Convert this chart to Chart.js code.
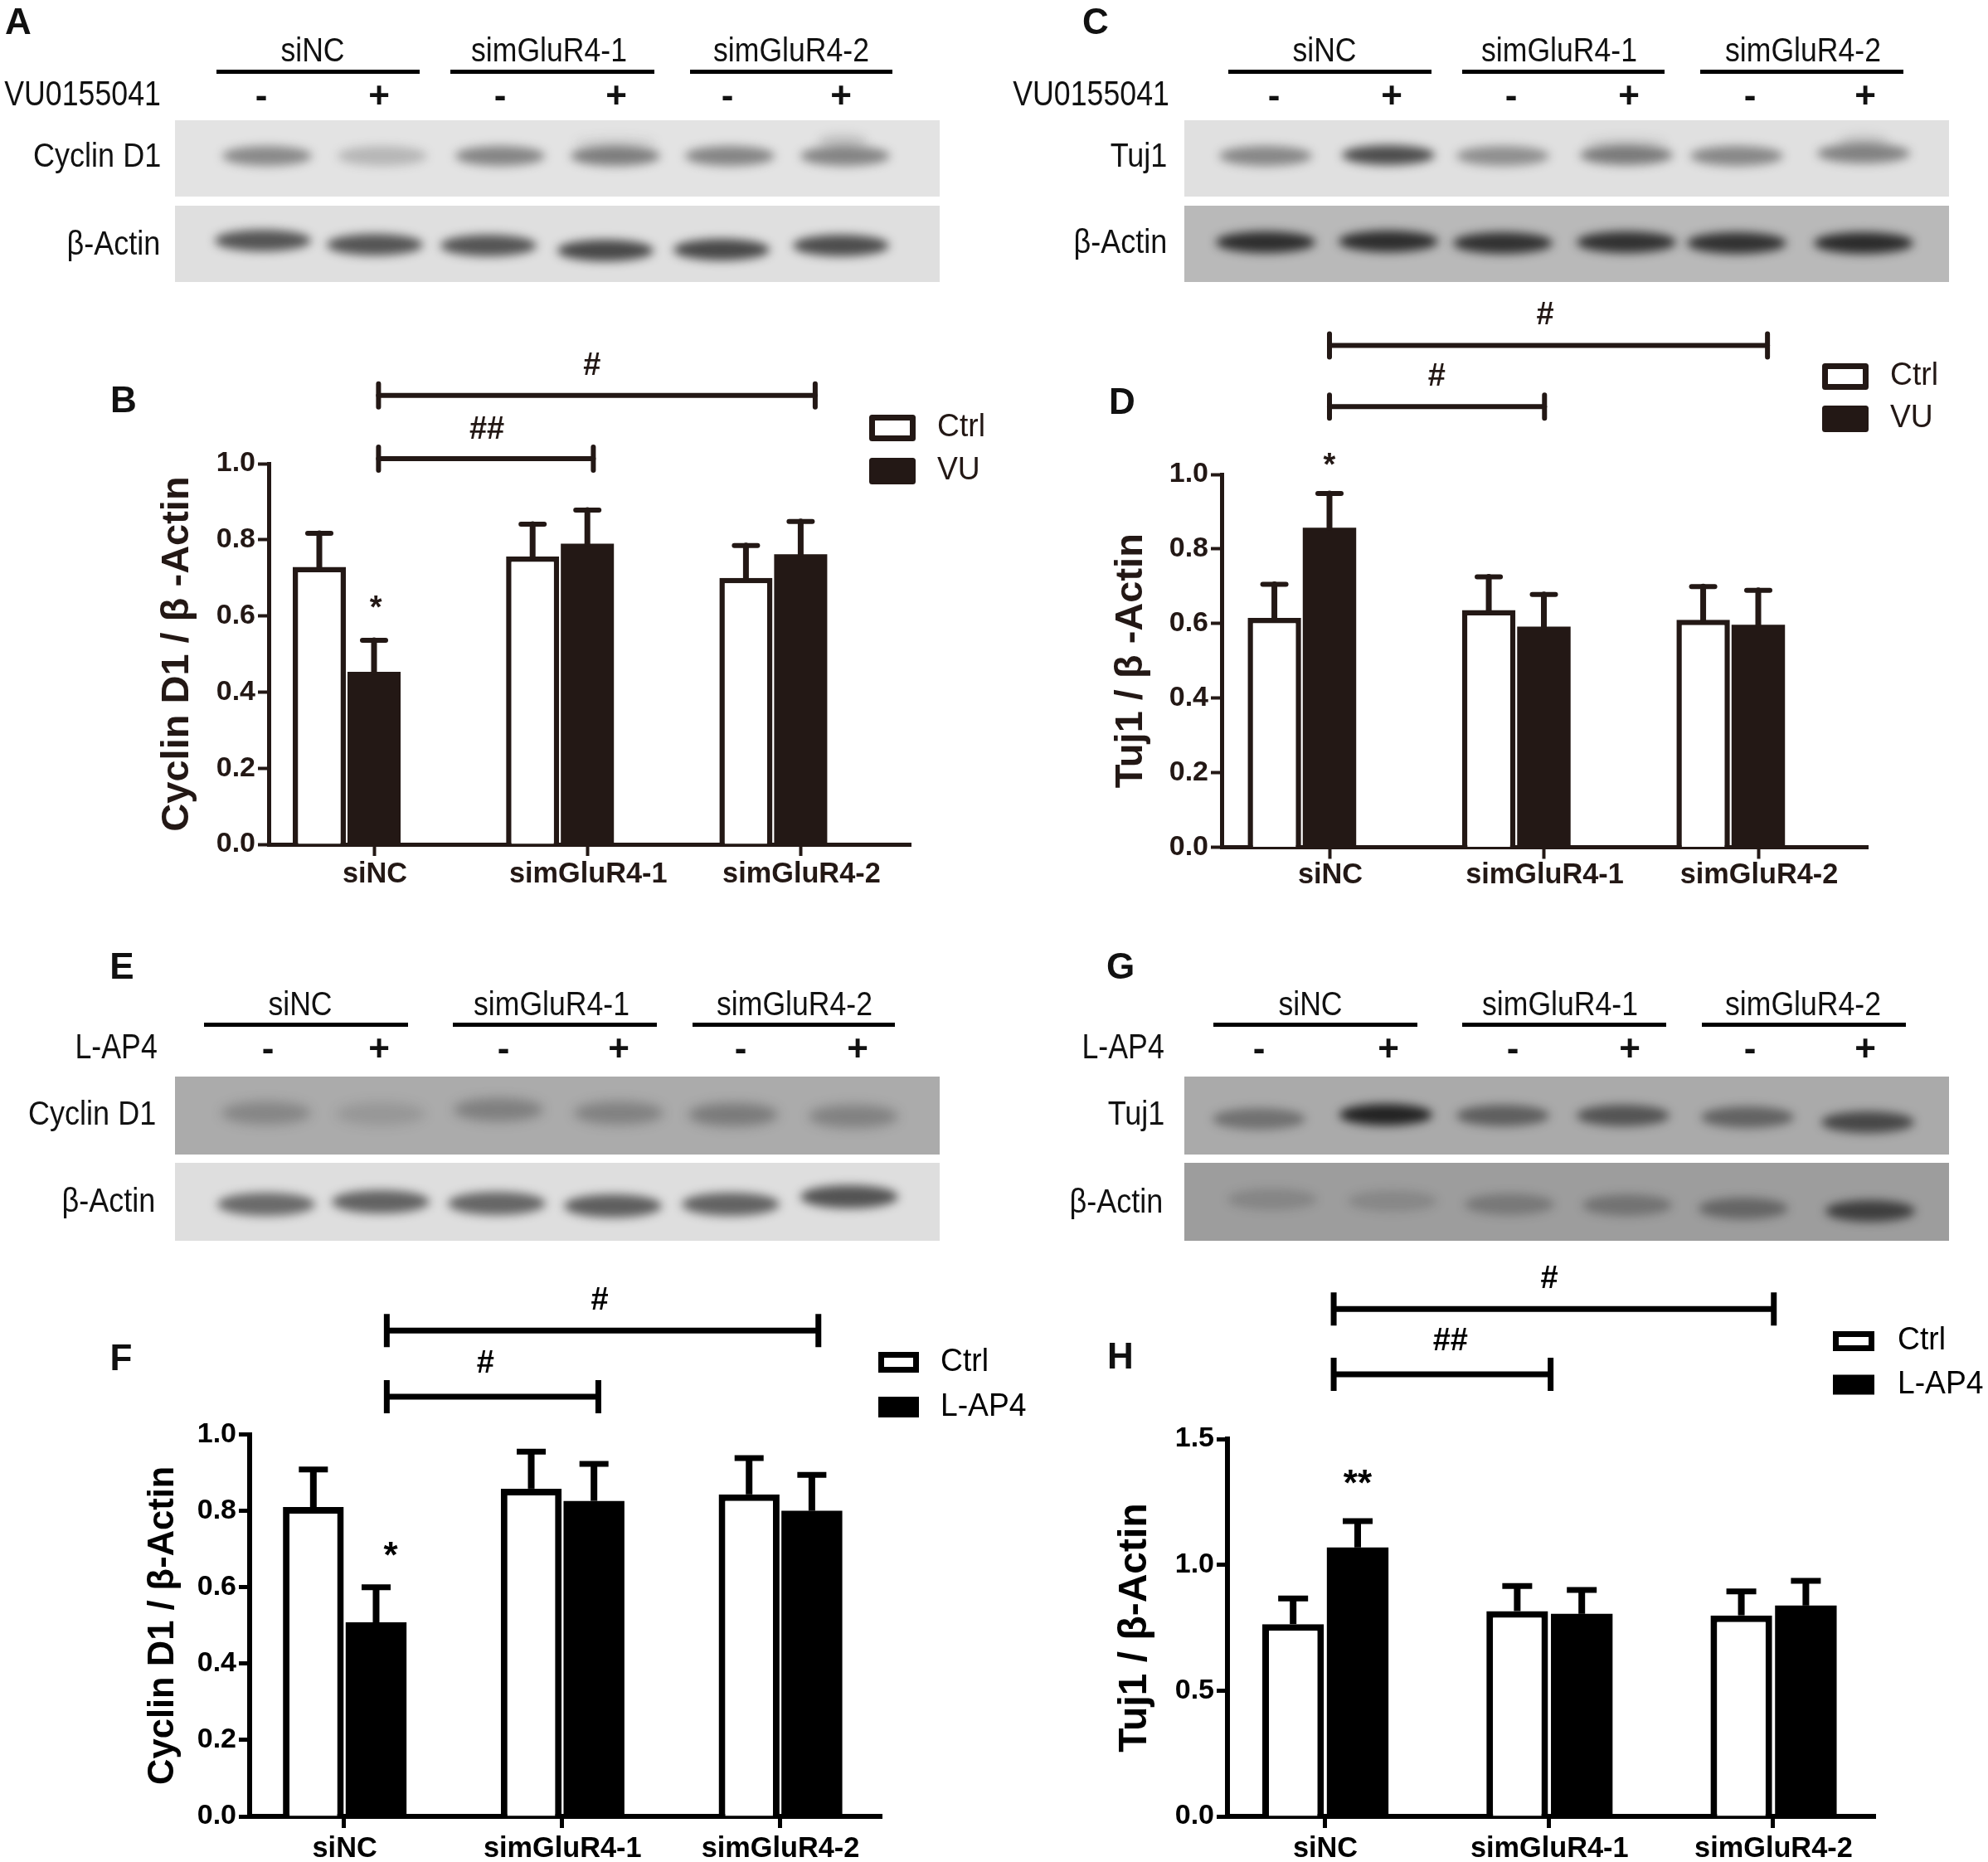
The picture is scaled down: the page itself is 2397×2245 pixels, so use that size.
<!DOCTYPE html>
<html><head><meta charset="utf-8">
<script src="https://cdn.jsdelivr.net/npm/chart.js@4/dist/chart.umd.js"></script>
<style>
html,body{margin:0;padding:0;background:#fff;width:2397px;height:2245px;overflow:hidden}
#stage{position:relative;width:2397px;height:2245px}
canvas{position:absolute}
.t{position:absolute;white-space:nowrap;font-family:"Liberation Sans",Arial,sans-serif;color:#111;line-height:1}
</style></head><body><div id="stage"><canvas id="blots" width="2397" height="2245" style="left:0;top:0"></canvas></div>
<script>
// ---------- data ----------
const categories=['siNC','simGluR4-1','simGluR4-2'];
const bCtrl=[0.729,0.756,0.700], bVU=[0.453,0.790,0.762];
const bCtrlErr=[0.088,0.085,0.085], bVUErr=[0.083,0.088,0.086];
const dCtrl=[0.615,0.636,0.610], dVU=[0.857,0.592,0.597];
const dCtrlErr=[0.090,0.089,0.089], dVUErr=[0.092,0.086,0.092];
const fCtrl=[0.810,0.858,0.843], fLAP4=[0.508,0.826,0.800];
const fCtrlErr=[0.098,0.097,0.095], fLAP4Err=[0.092,0.097,0.094];
const hCtrl=[0.764,0.816,0.799], hLAP4=[1.069,0.805,0.838];
const hCtrlErr=[0.102,0.100,0.095], hLAP4Err=[0.105,0.095,0.098];
const ticksUnit=[0,0.2,0.4,0.6,0.8,1.0];
const ticksTuj=[0,0.5,1.0,1.5];

// western blots: band darkness per lane
const aCyclin=[0.48,0.24,0.50,0.54,0.50,0.50], aActin=[0.72,0.72,0.72,0.78,0.78,0.76];
const cTuj=[0.46,0.76,0.42,0.52,0.46,0.48], cActin=[0.82,0.82,0.80,0.80,0.80,0.84];
const eCyclin=[0.30,0.16,0.36,0.34,0.40,0.34], eActin=[0.64,0.68,0.66,0.70,0.68,0.76];
const gTuj=[0.38,0.90,0.50,0.58,0.48,0.66], gActin=[0.18,0.16,0.28,0.32,0.42,0.72];

const FONT='"Liberation Sans",Arial,sans-serif';
const stage=document.getElementById('stage');

// ---------- page text ----------
function label(text,x,y,size,o={}){
  const d=document.createElement('div');d.className='t';d.textContent=text;
  d.style.fontSize=size+'px';if(o.bold)d.style.fontWeight='700';
  d.style.top=(y-size/2)+'px';
  const sx=o.sx||1;
  if(o.align==='right'){d.style.right=(2397-x)+'px';d.style.transformOrigin='right center';d.style.transform='scaleX('+sx+')';}
  else{d.style.left=x+'px';d.style.transform='translateX(-50%) scaleX('+sx+')';}
  stage.appendChild(d);
}
function rule(x0,x1,y0,y1){
  const d=document.createElement('div');
  d.style.cssText='position:absolute;background:#000;left:'+x0+'px;top:'+y0+'px;width:'+(x1-x0)+'px;height:'+(y1-y0)+'px';
  stage.appendChild(d);
}
[['A',22,26],['B',149,482],['C',1321,26],['D',1353,484],['E',147,1165],['F',146,1637],['G',1351,1165],['H',1351,1635]]
 .forEach(p=>label(p[0],p[1],p[2],44,{bold:true}));

function header(cfg){
  categories.forEach((c,i)=>{label(c,cfg.names[i],cfg.nameY,40,{sx:0.89});});
  cfg.rules.forEach(r=>rule(r[0],r[1],cfg.ruleY,cfg.ruleY+5));
  label(cfg.agent,cfg.right,cfg.signY-2,42,{align:'right',sx:0.85});
  cfg.signs.forEach((x,i)=>label(i%2?'+':'-',x,cfg.signY,44,{bold:true}));
  cfg.rows.forEach(r=>label(r[0],r[1],r[2],40,{align:'right',sx:0.9}));
}
header({names:[377,662,954],nameY:60,rules:[[261,506],[543,789],[832,1076]],ruleY:84,agent:'VU0155041',right:194,signY:115,
  signs:[315,457,603,743,877,1014],rows:[['Cyclin D1',194,187],['β-Actin',193,293]]});
header({names:[1597,1880,2174],nameY:60,rules:[[1481,1726],[1763,2007],[2050,2295]],ruleY:84,agent:'VU0155041',right:1410,signY:115,
  signs:[1536,1678,1822,1964,2110,2249],rows:[['Tuj1',1407,187],['β-Actin',1407,291]]});
header({names:[362,665,958],nameY:1210,rules:[[246,492],[546,792],[835,1079]],ruleY:1233,agent:'L-AP4',right:190,signY:1264,
  signs:[323,457,607,746,893,1034],rows:[['Cyclin D1',188,1342],['β-Actin',187,1447]]});
header({names:[1580,1881,2174],nameY:1210,rules:[[1463,1709],[1763,2009],[2052,2298]],ruleY:1233,agent:'L-AP4',right:1404,signY:1264,
  signs:[1518,1674,1824,1965,2110,2249],rows:[['Tuj1',1404,1342],['β-Actin',1402,1448]]});

// ---------- blot images ----------
const bctx=document.getElementById('blots').getContext('2d');
function blot(x,y,w,h,bg,bands,xs,ys,bw,bh,blur,ink,smears){
  bctx.save();bctx.beginPath();bctx.rect(x,y,w,h);bctx.clip();
  bctx.fillStyle=bg;bctx.fillRect(x,y,w,h);
  bctx.filter='blur('+blur+'px)';
  (smears||[]).forEach(s=>{
    bctx.fillStyle='rgba('+ink+','+s[4]+')';
    bctx.beginPath();bctx.ellipse(s[0],s[1],s[2]/2,s[3]/2,0,0,Math.PI*2);bctx.fill();
  });
  bands.forEach((a,i)=>{
    bctx.fillStyle='rgba('+ink+','+a+')';
    bctx.beginPath();bctx.ellipse(xs[i],ys[i],bw/2,bh/2,0,0,Math.PI*2);bctx.fill();
  });
  bctx.restore();
}
blot(211,145,922,92,'#e3e3e3',aCyclin,[322,461,603,742,880,1019],[188,188,188,188,188,188],108,24,6,'40,40,40',[[742,172,100,16,0.09],[1016,170,60,18,0.16]]);
blot(211,248,922,92,'#dfdfdf',aActin,[317,452,589,730,870,1014],[290,295,296,302,301,296],116,26,6,'30,30,30');
blot(1428,145,922,92,'#e0e0e0',cTuj,[1526,1674,1812,1961,2094,2247],[188,187,188,187,188,185],112,24,6,'30,30,30',[[1961,172,100,16,0.08],[2247,170,60,18,0.12]]);
blot(1428,248,922,92,'#b9b9b9',cActin,[1526,1674,1812,1961,2094,2247],[292,291,293,292,293,293],120,26,6,'15,15,15');
blot(211,1298,922,94,'#ababab',eCyclin,[321,459,601,746,884,1029],[1342,1343,1338,1342,1344,1346],108,28,7,'50,50,50');
blot(211,1402,922,94,'#dedede',eActin,[321,459,599,739,881,1024],[1452,1449,1451,1454,1452,1443],118,28,6,'40,40,40');
blot(1428,1298,922,94,'#aaaaaa',gTuj,[1518,1671,1812,1957,2107,2252],[1349,1344,1345,1345,1347,1353],112,26,6,'20,20,20');
blot(1428,1402,922,94,'#9d9d9d',gActin,[1534,1679,1820,1962,2102,2255],[1446,1448,1452,1453,1457,1460],108,26,6,'25,25,25');

// ---------- charts ----------
function text(ctx,s,x,y,font,sx,color,align){
  ctx.save();ctx.translate(x,y);ctx.scale(sx,1);ctx.font=font;ctx.textAlign=align||'center';ctx.textBaseline='middle';
  ctx.fillStyle=color;ctx.fillText(s,0,0);ctx.restore();
}
function panelChart(c){
  const cv=document.createElement('canvas');
  cv.width=c.box[2]-c.box[0];cv.height=c.box[3]-c.box[1];
  cv.style.left=c.box[0]+'px';cv.style.top=c.box[1]+'px';stage.appendChild(cv);
  const ox=c.box[0],oy=c.box[1];
  const xmin=(c.left-c.t0)/c.sp,xmax=(c.right-c.t0)/c.sp;
  const pts=(vals,off)=>vals.map((v,i)=>({x:i+off,y:v}));
  const plug={id:'panel',afterDraw(ch){
    const g=ch.ctx,X=ch.scales.x,Y=ch.scales.y;
    g.save();g.strokeStyle=c.ink;g.lineCap=c.round?'round':'butt';
    c.errs.forEach((err,d)=>{
      ch.getDatasetMeta(d).data.forEach((el,i)=>{
        const v=ch.data.datasets[d].data[i].y,yt=Y.getPixelForValue(v+err[i]),yb=Y.getPixelForValue(v);
        g.lineWidth=c.stem;g.beginPath();g.moveTo(el.x,yb);g.lineTo(el.x,yt);g.stroke();
        g.lineWidth=c.capT;g.beginPath();g.moveTo(el.x-c.capW/2,yt);g.lineTo(el.x+c.capW/2,yt);g.stroke();
      });
    });
    c.brackets.forEach(b=>{
      const x0=X.getPixelForValue(b[0]),x1=X.getPixelForValue(b[1]),y=Y.getPixelForValue(b[2]);
      g.lineWidth=c.brT;g.beginPath();g.moveTo(x0,y);g.lineTo(x1,y);g.stroke();
      g.beginPath();g.moveTo(x0,y-c.brH);g.lineTo(x0,y+c.brH);g.moveTo(x1,y-c.brH);g.lineTo(x1,y+c.brH);g.stroke();
    });
    g.restore();
    c.marks.forEach(m=>{
      const star=m[0].includes('*');const sz=m[3];
      text(g,m[0],X.getPixelForValue(m[1]),Y.getPixelForValue(m[2])+(star?sz*0.2:0),'700 '+sz+'px '+FONT,1,c.ink);
    });
    X.ticks.forEach((t,i)=>text(g,categories[i],X.getPixelForTick(i)+1,c.labelY-oy,'700 35px '+FONT,0.98,c.ink));
    ch.data.datasets.forEach((ds,i)=>{
      const l=c.legend,y0=l.ys[i]-oy,x0=l.x0-ox,w=l.w,h=l.h;
      g.save();g.lineJoin=c.round?'round':'miter';g.strokeStyle=c.ink;g.lineWidth=l.lw;g.fillStyle=ds.backgroundColor;
      g.fillRect(x0+l.lw/2,y0+l.lw/2,w-l.lw,h-l.lw);g.strokeRect(x0+l.lw/2,y0+l.lw/2,w-l.lw,h-l.lw);g.restore();
      text(g,ds.label,l.tx-ox,y0+h/2,'400 38px '+FONT,l.sx,c.ink,'left');
    });
  }};
  return new Chart(cv.getContext('2d'),{
    type:'bar',
    data:{datasets:[
      {label:'Ctrl',data:pts(c.a,c.offA),backgroundColor:'#ffffff',borderColor:c.ink,borderWidth:c.bw,grouped:false,barPercentage:c.barPct,categoryPercentage:1},
      {label:c.agent,data:pts(c.b,c.offB),backgroundColor:c.ink,borderWidth:0,grouped:false,barPercentage:c.barPct,categoryPercentage:1}
    ]},
    plugins:[plug],
    options:{
      responsive:false,animation:false,devicePixelRatio:1,
      layout:{padding:{left:c.titleX-c.title/2-ox,right:c.box[2]-c.right,top:c.top-oy,bottom:0}},
      plugins:{legend:{display:false},tooltip:{enabled:false},title:{display:false}},
      scales:{
        x:{type:'linear',offset:false,min:xmin,max:xmax,
          afterBuildTicks:s=>{s.ticks=categories.map((_,i)=>({value:i}));},
          afterFit:s=>{s.height=c.box[3]-c.bottom;},
          ticks:{display:false,autoSkip:false},
          grid:{display:true,offset:false,drawOnChartArea:false,drawTicks:true,tickLength:c.xTick,tickWidth:c.tickW,tickColor:c.ink},
          border:{display:true,color:c.ink,width:c.axisW}},
        y:{type:'linear',min:0,max:c.yMax,
          afterBuildTicks:s=>{s.ticks=c.yTicks.map(v=>({value:v}));},
          afterFit:s=>{s.width=c.left-(c.titleX-c.title/2);},
          ticks:{autoSkip:false,padding:3,color:c.ink,font:{family:FONT,weight:'700',size:c.tickFont},callback:v=>v.toFixed(1)},
          title:{display:true,text:c.yTitle,color:c.ink,padding:0,font:{family:FONT,weight:'700',size:c.title,lineHeight:1}},
          grid:{display:true,drawOnChartArea:false,drawTicks:true,tickLength:13,tickWidth:c.tickW,tickColor:c.ink},
          border:{display:true,color:c.ink,width:c.axisW}}
      }
    }
  });
}
const DARK='#231815';
panelChart({box:[130,400,1240,1100],left:324,right:1098,top:559,bottom:1018,t0:451,sp:257.2,offA:-0.2566,offB:0,barPct:0.97,
  a:bCtrl,b:bVU,errs:[bCtrlErr,bVUErr],agent:'VU',ink:DARK,round:true,bw:6.5,stem:7,capT:6,capW:28,axisW:5,tickW:4,xTick:14,brT:6,brH:14,
  yMax:1,yTicks:ticksUnit,yTitle:'Cyclin D1 / β -Actin',title:47,titleX:214,tickFont:34,labelY:1054,
  brackets:[[0.021,2.068,1.179],[0.021,1.028,1.013]],marks:[['#',1.022,1.255,38],['##',0.529,1.088,38],['*',0.008,0.635,38]],
  legend:{x0:1048,w:56,h:32,ys:[500,552],lw:7,tx:1130,sx:0.98}});
panelChart({box:[1320,340,2397,1100],left:1473,right:2252,top:572,bottom:1021.5,t0:1603,sp:258.5,offA:-0.257,offB:0,barPct:0.97,
  a:dCtrl,b:dVU,errs:[dCtrlErr,dVUErr],agent:'VU',ink:DARK,round:true,bw:6.5,stem:7,capT:6,capW:28,axisW:5,tickW:4,xTick:14,brT:6,brH:14,
  yMax:1,yTicks:ticksUnit,yTitle:'Tuj1 / β -Actin',title:47,titleX:1364,tickFont:34,labelY:1055,
  brackets:[[0,2.043,1.346],[0,1.003,1.182]],marks:[['#',1.006,1.426,38],['#',0.5,1.261,38],['*',0,1.039,38]],
  legend:{x0:2197,w:56,h:32,ys:[438,489],lw:7,tx:2279,sx:0.98}});
panelChart({box:[130,1500,1240,2245],left:301,right:1063,top:1729.5,bottom:2190,t0:414.6,sp:262.7,offA:-0.14,offB:0.148,barPct:0.97,
  a:fCtrl,b:fLAP4,errs:[fCtrlErr,fLAP4Err],agent:'L-AP4',ink:'#000000',round:false,bw:8,stem:8,capT:7,capW:35,axisW:6,tickW:5,xTick:14,brT:7,brH:20,
  yMax:1,yTicks:ticksUnit,yTitle:'Cyclin D1 / β-Actin',title:43.5,titleX:197,tickFont:34,labelY:2229,
  brackets:[[0.197,2.178,1.272],[0.197,1.168,1.099]],marks:[['#',1.174,1.349,38],['#',0.65,1.184,38],['*',0.215,0.698,44]],
  legend:{x0:1059,w:49,h:25,ys:[1630,1684],lw:7,tx:1134,sx:0.98}});
panelChart({box:[1320,1500,2397,2245],left:1480,right:2261,top:1735,bottom:2190,t0:1597,sp:270.2,offA:-0.14,offB:0.148,barPct:0.955,
  a:hCtrl,b:hLAP4,errs:[hCtrlErr,hLAP4Err],agent:'L-AP4',ink:'#000000',round:false,bw:8,stem:8,capT:7,capW:36,axisW:6,tickW:5,xTick:14,brT:7,brH:20,
  yMax:1.5,yTicks:ticksTuj,yTitle:'Tuj1 / β-Actin',title:48,titleX:1369,tickFont:34,labelY:2229,
  brackets:[[0.041,2.005,2.017],[0.041,1.009,1.757]],marks:[['#',1.003,2.136,38],['##',0.562,1.886,38],['**',0.148,1.345,44]],
  legend:{x0:2210,w:50,h:24,ys:[1605,1657.5],lw:7,tx:2288,sx:0.98}});
</script></body></html>
